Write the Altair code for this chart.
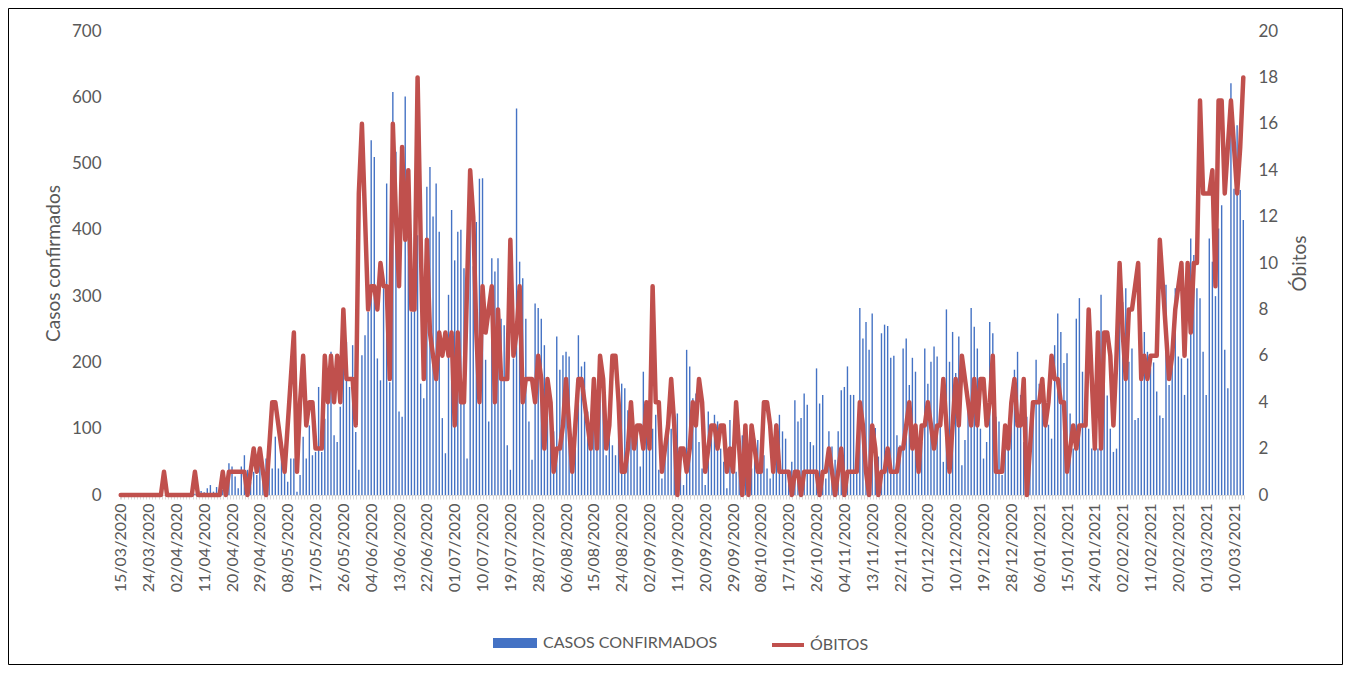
import json
import pandas as pd
import altair as alt

# Casos confirmados diários (15/03/2020 a 13/03/2021)
casos = [
    0, 0, 0, 0, 0, 0, 0, 0, 0, 0, 0, 0, 0, 0, 0, 0, 0, 0, 3, 0, 2, 0, 3, 1, 2, 5, 6, 4,
    10, 15, 5, 12, 15, 8, 5, 48, 43, 28, 10, 43, 60, 38, 20, 35, 30, 50, 30, 55, 40, 40,
    88, 40, 80, 40, 20, 55, 55, 5, 30,
    88, 55, 105, 60, 65, 163, 65, 115, 170, 216, 90, 80, 133, 196, 231, 163, 226, 95, 38,
    211, 241, 276, 535, 510, 206, 173, 312, 470, 170, 608, 518, 126,
    118, 601, 387, 276, 430, 392, 168, 146, 465, 495, 420, 470, 397, 116, 63, 302, 430,
    354, 397, 400, 342, 55, 430, 345, 412, 477, 478, 204, 111, 357,
    337, 357, 266, 256, 75, 38, 206, 583, 352, 327, 266, 111, 53, 289, 282, 266, 226, 176,
    121, 96, 239, 189, 211, 216, 209, 40, 85, 241, 194, 201, 126,
    70, 100, 136, 173, 160, 60, 120, 75, 60, 110, 168, 161, 128, 123, 70, 100, 43, 186,
    108, 90, 100, 121, 38, 25, 60, 123, 100, 75, 123, 70,
    15, 219, 194, 146, 153, 80, 40, 15, 126, 93, 121, 111, 70, 50, 10, 113, 60, 35, 106,
    90, 60, 30, 40, 85, 83, 60, 60, 40, 25, 55, 108,
    121, 96, 85, 25, 50, 143, 111, 116, 153, 136, 80, 75, 191, 138, 151, 25, 96, 73, 53,
    96, 158, 163, 194, 151, 151, 80, 282, 236, 261, 219, 274,
    101, 58, 244, 257, 255, 207, 210, 90, 75, 221, 236, 166, 207, 186, 65, 80, 221, 168,
    201, 224, 209, 120, 50, 280, 201, 246, 184, 239, 45, 83, 156,
    282, 254, 221, 100, 55, 80, 261, 244, 118, 111, 30, 70, 75, 143, 189, 216, 151, 80,
    118, 45, 131, 204, 168, 151, 106, 106, 85, 226, 274, 246, 199,
    214, 123, 70, 266, 297, 186, 131, 100, 70, 80, 70, 302, 206, 150, 100, 65, 70, 332,
    291, 312, 201, 221, 113, 116, 219, 246, 216, 191, 200, 156,
    120, 116, 317, 166, 206, 312, 209, 206, 151, 206, 387, 362, 312, 297, 216, 151, 387,
    352, 300, 402, 437, 219, 161, 621, 462, 558, 460, 415,
]

# Óbitos diários
obitos = [
    0, 0, 0, 0, 0, 0, 0, 0, 0, 0, 0, 0, 0, 0, 1, 0, 0, 0, 0, 0, 0, 0, 0, 0, 1, 0, 0, 0,
    0, 0, 0, 0, 0,
    1, 0, 1, 1, 1, 1, 1, 1, 0, 1, 2, 1, 2, 1, 0, 2, 4, 4, 3, 2, 1, 3, 5, 7, 1, 4, 6, 3,
    4, 4, 2, 2, 2, 6, 4, 6, 4, 6, 4, 8, 5, 5, 5, 3, 13, 16, 12, 8, 9, 9, 8, 10, 9, 9, 5,
    16, 12, 9,
    15, 11, 14, 8, 8, 18, 11, 5, 11, 7, 6, 5, 7, 6, 7, 6, 7, 3, 7, 4, 4, 9, 14, 12, 7, 4,
    9, 7, 8, 9,
    4, 8, 5, 5, 5, 11, 6, 7, 9, 4, 5, 5, 5, 4, 6, 5, 2, 5, 4, 1, 2, 2, 3, 5, 3, 1, 3, 5,
    5, 4, 3,
    2, 5, 2, 6, 5, 2, 3, 6, 6, 4, 1, 1, 2, 4, 2, 3, 3, 2, 4, 2, 9, 4, 4, 1, 2, 3, 5, 3, 0, 2,
    2, 1, 2, 4, 3, 5, 4, 1, 2, 3, 3, 2, 3, 3, 1, 2, 1, 4, 2, 0, 3, 0, 3, 2, 1, 1, 4, 4, 3,
    1, 3,
    1, 1, 1, 1, 0, 1, 1, 0, 1, 1, 1, 1, 1, 0, 1, 1, 2, 1, 0, 1, 2, 0, 1, 1, 1, 1, 4, 3, 1,
    0, 3,
    2, 0, 1, 1, 2, 1, 1, 1, 2, 2, 3, 4, 2, 3, 1, 3, 3, 4, 3, 2, 3, 3, 5, 3, 1, 3, 5, 3, 6,
    5, 4,
    3, 5, 3, 5, 5, 3, 4, 6, 1, 1, 1, 3, 2, 4, 5, 3, 3, 5, 0, 2, 4, 4, 4, 5, 3, 4, 6, 5, 5,
    4, 4,
    1, 2, 3, 2, 3, 3, 3, 8, 5, 2, 7, 2, 7, 7, 6, 3, 6, 10, 7, 5, 8, 8, 9, 10, 5, 6, 5, 6,
    6, 6,
    11, 9, 7, 5, 6, 8, 9, 10, 6, 10, 7, 10, 10, 17, 13, 13, 13, 14, 9, 17, 17, 13, 15, 17,
    15, 13, 15, 18,
]

datas = pd.date_range("2020-03-15", periods=len(casos), freq="D").strftime("%d/%m/%Y").tolist()
rotulos_x = datas[::9]
ticks_casos = [0, 100, 200, 300, 400, 500, 600, 700]
ticks_obitos = [0, 2, 4, 6, 8, 10, 12, 14, 16, 18, 20]

df = pd.DataFrame({
    "dia": list(range(len(casos))),
    "data": datas,
    "casos": casos,
    "obitos": obitos,
    "serie_casos": "CASOS CONFIRMADOS",
    "serie_obitos": "ÓBITOS",
})

AZUL = "#4472C4"
VERMELHO = "#C0504D"
CINZA = "#595959"
FONTE = "Lato"

label_expr = "datum.value % 9 === 0 ? " + json.dumps(rotulos_x) + "[datum.value / 9] : ''"

x_enc = alt.X(
    "dia:O",
    scale=alt.Scale(paddingInner=0.55, paddingOuter=0),
    axis=alt.Axis(
        title=None, labelExpr=label_expr, labelAngle=270, labelAlign="right",
        labelBaseline="middle", labelOverlap=False, labelFontSize=16, labelPadding=4,
        tickSize=4, tickColor="#D9D9D9", domainColor="#D9D9D9", tickBand="extent",
    ),
)

barras = alt.Chart().mark_bar().encode(
    x=x_enc,
    y=alt.Y(
        "casos:Q",
        scale=alt.Scale(domain=[0, 700], nice=False),
        axis=alt.Axis(
            title="Casos confirmados", values=ticks_casos, grid=False, domain=False,
            ticks=False, labelPadding=19, labelFontSize=17, titleFontSize=19, titlePadding=8,
        ),
    ),
    fill=alt.Fill(
        "serie_casos:N",
        scale=alt.Scale(domain=["CASOS CONFIRMADOS"], range=[AZUL]),
        legend=alt.Legend(
            title=None, orient="none", legendX=373, legendY=590, direction="horizontal",
            symbolType="M-1,-0.23H1V0.23H-1Z", symbolSize=1936, symbolStrokeWidth=0,
            labelFontSize=16, labelColor=CINZA, labelOffset=6, padding=0, labelLimit=400,
        ),
    ),
)

linha = alt.Chart().mark_line(strokeWidth=4.5, strokeJoin="round", strokeCap="round").encode(
    x=x_enc,
    y=alt.Y(
        "obitos:Q",
        scale=alt.Scale(domain=[0, 20], nice=False),
        axis=alt.Axis(
            orient="right", title="Óbitos", values=ticks_obitos, grid=False, domain=False,
            ticks=False, labelPadding=14, labelFontSize=17, titleFontSize=19,
            titleAngle=270, titleBaseline="top", titlePadding=13,
        ),
    ),
    stroke=alt.Stroke(
        "serie_obitos:N",
        scale=alt.Scale(domain=["ÓBITOS"], range=[VERMELHO]),
        legend=alt.Legend(
            title=None, orient="none", legendX=650, legendY=596, direction="horizontal",
            symbolType="stroke", symbolSize=1024, symbolStrokeWidth=4,
            labelFontSize=16, labelColor=CINZA, labelOffset=4, padding=0, labelLimit=400,
        ),
    ),
)

moldura = alt.Chart(pd.DataFrame({"moldura": [1]})).mark_rect(
    fillOpacity=0, stroke="#000000", strokeWidth=1
).encode(
    x=alt.value(-111.5), x2=alt.value(1222.5), y=alt.value(-22.5), y2=alt.value(633.5)
)

chart = (
    alt.layer(barras, linha, moldura, data=df)
    .resolve_scale(y="independent")
    .properties(
        width=1124,
        height=464,
        autosize=alt.AutoSizeParams(type="none"),
        padding={"left": 112, "top": 23, "right": 99, "bottom": 171},
    )
    .configure_view(stroke=None)
    .configure_axis(
        labelFont=FONTE, titleFont=FONTE, labelColor=CINZA, titleColor=CINZA,
        titleFontWeight="normal",
    )
    .configure_legend(labelFont=FONTE)
)

chart.save("out.html", embed_options={"renderer": "svg", "actions": False})
